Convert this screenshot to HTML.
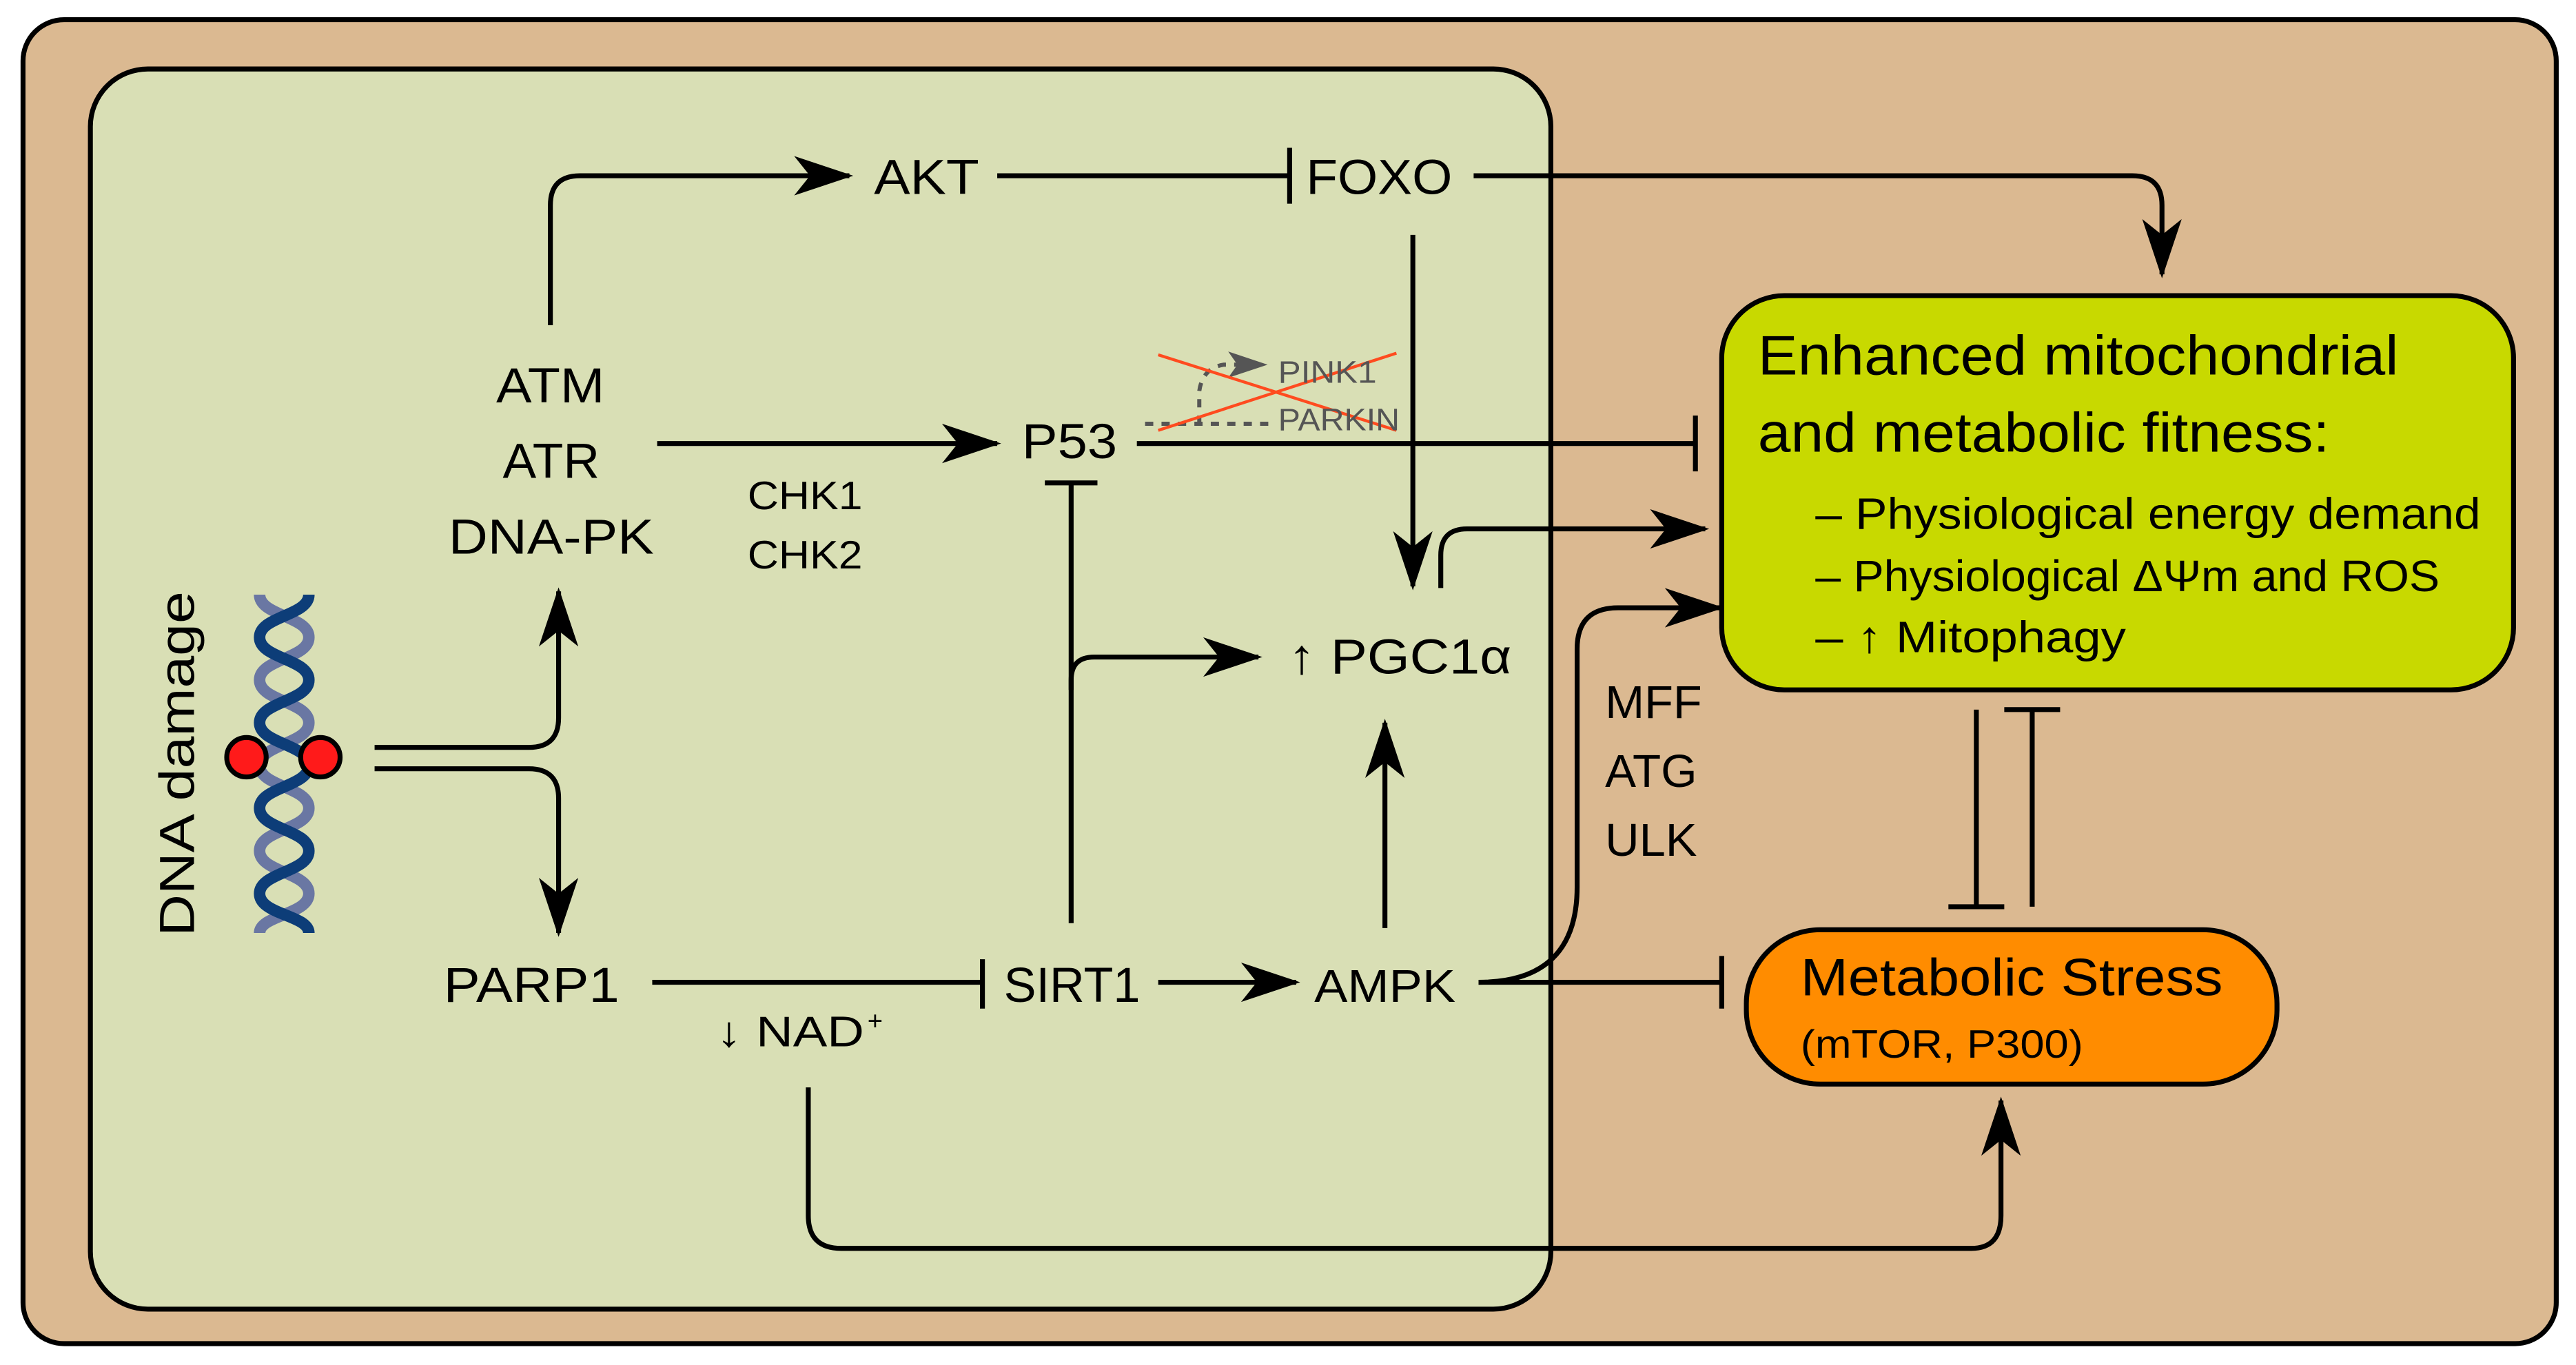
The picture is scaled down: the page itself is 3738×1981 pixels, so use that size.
<!DOCTYPE html>
<html><head><meta charset="utf-8"><style>
html,body{margin:0;padding:0;background:#fff}
svg{display:block}
text{font-family:"Liberation Sans","DejaVu Sans",sans-serif;fill:#000}
</style></head><body>
<svg width="3738" height="1981" viewBox="0 0 1568 831" xmlns="http://www.w3.org/2000/svg">
<defs>
<marker id="a" viewBox="0 0 30 20" refX="28" refY="10" markerWidth="36" markerHeight="24" markerUnits="userSpaceOnUse" orient="auto">
<path d="M0 0 L30 10 L0 20 L8 10 Z" fill="#000"/></marker>
<marker id="g" viewBox="0 0 30 20" refX="28" refY="10" markerWidth="24" markerHeight="16" markerUnits="userSpaceOnUse" orient="auto">
<path d="M0 0 L30 10 L0 20 L7 10 Z" fill="#555"/></marker>
</defs>
<rect width="1568" height="831" fill="#fff"/>
<rect x="14" y="12" width="1542" height="806" rx="25" fill="#dbb991" stroke="#000" stroke-width="3"/>
<rect x="55" y="42" width="889" height="755" rx="35" fill="#d9dfb5" stroke="#000" stroke-width="3"/>
<rect x="1048" y="180" width="482" height="240" rx="38" fill="#c8d900" stroke="#000" stroke-width="3"/>
<rect x="1063" y="566" width="323" height="94" rx="45" fill="#ff8c00" stroke="#000" stroke-width="3"/>

<g fill="none" stroke="#000" stroke-width="3">
<path d="M335 198 V125 Q335 107 353 107 H517" marker-end="url(#a)"/>
<path d="M607 107 H785 M785 90 V124"/>
<path d="M897 107 H1298 Q1316 107 1316 125 V167" marker-end="url(#a)"/>
<path d="M860 143 V357" marker-end="url(#a)"/>
<path d="M400 270 H607" marker-end="url(#a)"/>
<path d="M692 270 H1032 M1032 253 V287"/>
<path d="M652 562 V294 M636 294 H668"/>
<path d="M652 420 V414 Q652 400 666 400 H766" marker-end="url(#a)"/>
<path d="M877 358 V338 Q877 322 893 322 H1038" marker-end="url(#a)"/>
<path d="M843 565 V440" marker-end="url(#a)"/>
<path d="M900 598 Q960 598 960 540 V395 Q960 370 985 370 H1047" marker-end="url(#a)"/>
<path d="M900 598 H1048 M1048 582 V614"/>
<path d="M705 598 H789" marker-end="url(#a)"/>
<path d="M397 598 H598 M598 584 V614"/>
<path d="M228 455 H322 Q340 455 340 437 V360" marker-end="url(#a)"/>
<path d="M228 468 H322 Q340 468 340 486 V568" marker-end="url(#a)"/>
<path d="M492 662 V740 Q492 760 512 760 H1200 Q1218 760 1218 740 V670" marker-end="url(#a)"/>
<path d="M1203 432 V552 M1186 552 H1220"/>
<path d="M1237 552 V432 M1220 432 H1254"/>
</g>
<g fill="none" stroke="#555" stroke-width="2.5" stroke-dasharray="5 5">
<path d="M697 258 H772"/>
<path d="M730 258 V238 Q732 224 745 222 H770" marker-end="url(#g)"/>
</g>
<g stroke="#ff4b1f" stroke-width="1.8"><path d="M705 216 L850 262 M705 262 L850 215"/></g>

<!-- DNA -->
<g fill="none" stroke-width="7">
<path d="M158 362 C158 375 188 375 188 388 C188 401 158 401 158 414 C158 427 188 427 188 440 C188 453 158 453 158 466 C158 479 188 479 188 492 C188 505 158 505 158 518 C158 531 188 531 188 544 C188 557 158 557 158 568" stroke="#6a77a3"/>
<path d="M188 362 C188 375 158 375 158 388 C158 401 188 401 188 414 C188 427 158 427 158 440 C158 453 188 453 188 466 C188 479 158 479 158 492 C158 505 188 505 188 518 C188 531 158 531 158 544 C158 557 188 557 188 568" stroke="#0d3d78"/>
</g>
<circle cx="150" cy="461" r="12" fill="#ff1a1a" stroke="#000" stroke-width="3"/>
<circle cx="195" cy="461" r="12" fill="#ff1a1a" stroke="#000" stroke-width="3"/>

<g font-size="30">
<text x="532" y="118" textLength="64" lengthAdjust="spacingAndGlyphs">AKT</text>
<text x="795" y="118" textLength="89" lengthAdjust="spacingAndGlyphs">FOXO</text>
<text x="302" y="245" textLength="66" lengthAdjust="spacingAndGlyphs">ATM</text>
<text x="306" y="291" textLength="59" lengthAdjust="spacingAndGlyphs">ATR</text>
<text x="273" y="337" textLength="125" lengthAdjust="spacingAndGlyphs">DNA-PK</text>
<text x="622" y="279" textLength="58" lengthAdjust="spacingAndGlyphs">P53</text>
<text x="784" y="410" textLength="136" lengthAdjust="spacingAndGlyphs">↑ PGC1α</text>
<text x="270" y="610" textLength="107" lengthAdjust="spacingAndGlyphs">PARP1</text>
<text x="611" y="610" textLength="83" lengthAdjust="spacingAndGlyphs">SIRT1</text>
</g>
<text x="800" y="610" font-size="28" textLength="86" lengthAdjust="spacingAndGlyphs">AMPK</text>
<text x="455" y="310" font-size="24" textLength="70" lengthAdjust="spacingAndGlyphs">CHK1</text>
<text x="455" y="346" font-size="24" textLength="70" lengthAdjust="spacingAndGlyphs">CHK2</text>
<text x="436" y="637" font-size="26" textLength="90" lengthAdjust="spacingAndGlyphs">↓ NAD</text><text x="528" y="627" font-size="16">+</text>
<text x="977" y="437" font-size="28" textLength="59" lengthAdjust="spacingAndGlyphs">MFF</text>
<text x="977" y="479" font-size="28" textLength="56" lengthAdjust="spacingAndGlyphs">ATG</text>
<text x="977" y="521" font-size="28" textLength="56" lengthAdjust="spacingAndGlyphs">ULK</text>
<text transform="translate(118 570) rotate(-90)" font-size="30" textLength="210" lengthAdjust="spacingAndGlyphs">DNA damage</text>
<text x="778" y="233" font-size="19" style="fill:#555" textLength="60" lengthAdjust="spacingAndGlyphs">PINK1</text>
<text x="778" y="262" font-size="19" style="fill:#555" textLength="74" lengthAdjust="spacingAndGlyphs">PARKIN</text>

<text x="1070" y="228" font-size="34" textLength="390" lengthAdjust="spacingAndGlyphs">Enhanced mitochondrial</text>
<text x="1070" y="275" font-size="34" textLength="348" lengthAdjust="spacingAndGlyphs">and metabolic fitness:</text>
<text x="1105" y="322" font-size="27" textLength="405" lengthAdjust="spacingAndGlyphs">– Physiological energy demand</text>
<text x="1105" y="360" font-size="27" textLength="380" lengthAdjust="spacingAndGlyphs">– Physiological ΔΨm and ROS</text>
<text x="1105" y="397" font-size="27" textLength="189" lengthAdjust="spacingAndGlyphs">– ↑ Mitophagy</text>
<text x="1096" y="606" font-size="32" textLength="257" lengthAdjust="spacingAndGlyphs">Metabolic Stress</text>
<text x="1096" y="644" font-size="24" textLength="172" lengthAdjust="spacingAndGlyphs">(mTOR, P300)</text>
</svg>
</body></html>
